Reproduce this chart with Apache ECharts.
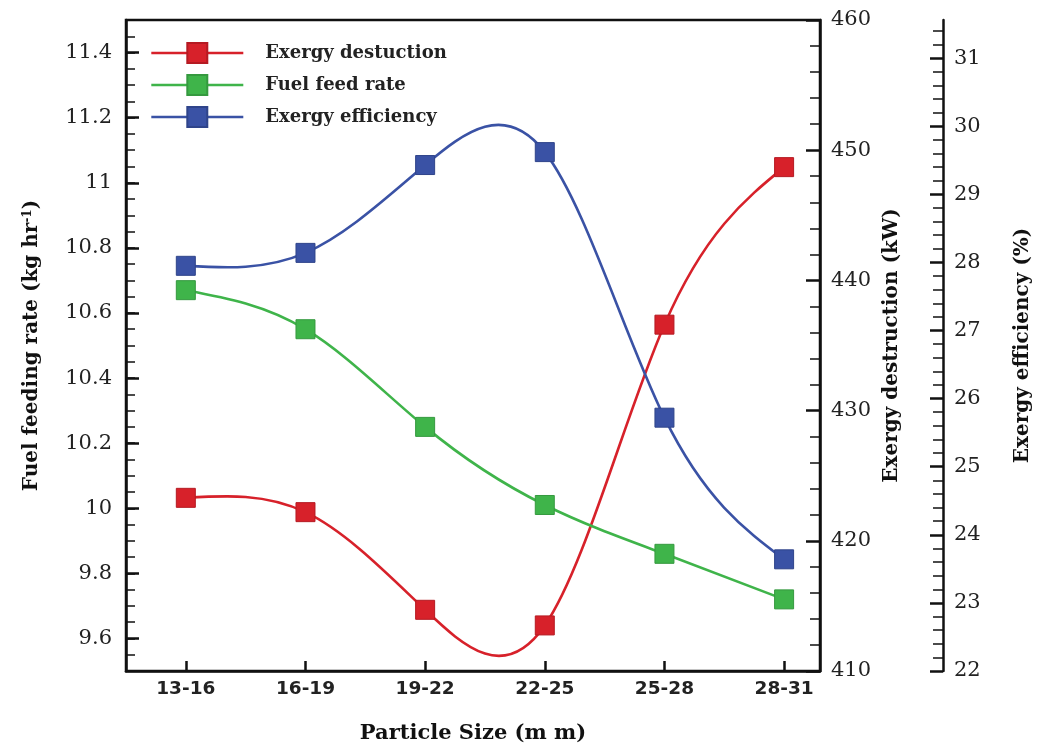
<!DOCTYPE html>
<html>
<head>
<meta charset="utf-8">
<script src="https://cdn.jsdelivr.net/npm/echarts@6/dist/echarts.min.js"></script>
<style>
  html, body { margin: 0; padding: 0; background: #fff; }
  #chart { width: 1041px; height: 744px; }
</style>
</head>
<body>
<div id="chart"></div>
<script>
// ---- data ----
const categories = ['13-16', '16-19', '19-22', '22-25', '25-28', '28-31'];
const exergyDestruction = [423.3, 422.2, 414.7, 413.5, 436.6, 448.7];
const fuelFeedRate = [10.67, 10.55, 10.25, 10.01, 9.86, 9.72];
const exergyEfficiency = [27.95, 28.14, 29.43, 29.62, 25.72, 23.64];
const fuelTickLabels = [9.6, 9.8, 10, 10.2, 10.4, 10.6, 10.8, 11, 11.2, 11.4];
const efficiencyTicks = [22, 23, 24, 25, 26, 27, 28, 29, 30, 31];
const categoryIndex = [0, 1, 2, 3, 4, 5];
const seriesNames = ['Exergy destuction', 'Fuel feed rate', 'Exergy efficiency'];

const RED = '#d7212a', GREEN = '#3fb44a', BLUE = '#3a52a5';
const AXIS = '#111';
const serif = 'DejaVu Serif';

function pairs(vals) { return vals.map((v, i) => [categoryIndex[i], v]); }

// Natural cubic spline through pixel points, returned as SVG path data (Bezier segments)
function splinePath(pts) {
  const n = pts.length;
  const h = [];
  for (let i = 0; i < n - 1; i++) h.push(pts[i + 1][0] - pts[i][0]);
  const M = new Array(n).fill(0);
  if (n > 2) {
    const a = [], b = [], c = [], d = [];
    for (let i = 1; i < n - 1; i++) {
      a.push(h[i - 1]); b.push(2 * (h[i - 1] + h[i])); c.push(h[i]);
      d.push(6 * ((pts[i + 1][1] - pts[i][1]) / h[i] - (pts[i][1] - pts[i - 1][1]) / h[i - 1]));
    }
    const m = b.length;
    for (let i = 1; i < m; i++) {
      const w = a[i] / b[i - 1];
      b[i] -= w * c[i - 1];
      d[i] -= w * d[i - 1];
    }
    const sol = new Array(m);
    sol[m - 1] = d[m - 1] / b[m - 1];
    for (let i = m - 2; i >= 0; i--) sol[i] = (d[i] - c[i] * sol[i + 1]) / b[i];
    for (let i = 0; i < m; i++) M[i + 1] = sol[i];
  }
  let path = 'M' + pts[0][0] + ' ' + pts[0][1];
  for (let i = 0; i < n - 1; i++) {
    const x0 = pts[i][0], y0 = pts[i][1], x1 = pts[i + 1][0], y1 = pts[i + 1][1], hh = h[i];
    const s = (y1 - y0) / hh;
    const m0 = s - hh * (2 * M[i] + M[i + 1]) / 6;
    const m1 = s + hh * (M[i] + 2 * M[i + 1]) / 6;
    path += ' C' + (x0 + hh / 3) + ' ' + (y0 + m0 * hh / 3) + ' ' + (x1 - hh / 3) + ' ' + (y1 - m1 * hh / 3) + ' ' + x1 + ' ' + y1;
  }
  return path;
}

function splineRenderer(values, color) {
  return function (params, api) {
    if (params.dataIndex !== 0) return null;
    const pts = values.map((v, i) => api.coord([categoryIndex[i], v]));
    return {
      type: 'path', silent: true,
      shape: { pathData: splinePath(pts) },
      style: { fill: 'none', stroke: color, lineWidth: 2.6 }
    };
  };
}

const chart = echarts.init(document.getElementById('chart'), null, { renderer: 'canvas' });

const yLabel = { fontFamily: serif, fontSize: 21, color: '#222' };
const nameStyle = { fontFamily: serif, fontWeight: 'bold', fontSize: 20, color: '#111' };

function markerSeries(name, values, yIdx, color, border) {
  return {
    name: name, type: 'line', yAxisIndex: yIdx, z: 4,
    data: pairs(values),
    symbol: 'rect', symbolSize: 19,
    lineStyle: { color: color, width: 2.6, opacity: 0 },
    itemStyle: { color: color, borderColor: border, borderWidth: 1 }
  };
}
function curveSeries(values, yIdx, color) {
  return {
    type: 'custom', yAxisIndex: yIdx, z: 3,
    data: pairs(values),
    renderItem: splineRenderer(values, color)
  };
}

const option = {
  animation: false,
  backgroundColor: '#fff',
  grid: { left: 126, right: 221, top: 20, bottom: 73, containLabel: false, outerBoundsMode: 'none', show: true, borderColor: AXIS, borderWidth: 2.5, backgroundColor: 'transparent' },
  legend: {
    orient: 'vertical', left: 150, top: 42, padding: 0,
    itemWidth: 92, itemHeight: 25, itemGap: 10,
    data: seriesNames,
    lineStyle: { opacity: 1, width: 2.6 },
    textStyle: { fontFamily: serif, fontWeight: 'bold', fontSize: 18, color: '#222', padding: [0, 0, 0, 17] }
  },
  xAxis: {
    type: 'value', min: -0.5, max: 5.3,
    name: 'Particle Size (m m)', nameLocation: 'middle', nameGap: 52,
    nameTextStyle: { fontFamily: serif, fontWeight: 'bold', fontSize: 21, color: '#111' },
    axisLine: { show: true, onZero: false, lineStyle: { color: AXIS, width: 2.5 } },
    axisTick: { show: true, inside: true, length: 10, customValues: categoryIndex, lineStyle: { color: AXIS, width: 2.5 } },
    axisLabel: { customValues: categoryIndex, formatter: v => categories[Math.round(v)], fontFamily: 'DejaVu Sans', fontWeight: 'bold', fontSize: 18.5, color: '#222', margin: 9 },
    splitLine: { show: false }
  },
  yAxis: [
    { // 0: fuel feed rate (short ticks every 0.05, labels)
      type: 'value', position: 'left', min: 9.5, max: 11.5, interval: 0.05,
      name: 'Fuel feeding rate (kg hr{sup|-1})', nameLocation: 'middle', nameGap: 84, nameRotate: 90,
      nameTextStyle: Object.assign({}, nameStyle, { rich: { sup: { fontFamily: serif, fontWeight: 'bold', fontSize: 12, verticalAlign: 'top', padding: [0, 0, 8, 0] } } }),
      axisLine: { show: true, onZero: false, lineStyle: { color: AXIS, width: 2.5 } },
      axisTick: { show: true, inside: true, length: 9, lineStyle: { color: AXIS, width: 1.5 } },
      axisLabel: Object.assign({ customValues: fuelTickLabels, formatter: v => String(Math.round(v * 10) / 10), margin: 14 }, yLabel),
      splitLine: { show: false }
    },
    { // 1: exergy destruction
      type: 'value', position: 'right', min: 410, max: 460, interval: 10,
      name: 'Exergy destruction (kW)', nameLocation: 'middle', nameGap: 60, nameRotate: 90,
      nameTextStyle: nameStyle,
      axisLine: { show: true, onZero: false, lineStyle: { color: AXIS, width: 2.5 } },
      axisTick: { show: true, inside: true, length: 14, lineStyle: { color: AXIS, width: 2.5 } },
      minorTick: { show: true, splitNumber: 5, length: 10, lineStyle: { color: AXIS, width: 1.5 } },
      axisLabel: Object.assign({ margin: 11 }, yLabel),
      splitLine: { show: false }, minorSplitLine: { show: false }
    },
    { // 2: exergy efficiency (offset axis)
      type: 'value', position: 'right', offset: 123, min: 22, max: 31.56, interval: 1,
      name: 'Exergy efficiency (%)', nameLocation: 'middle', nameGap: 70, nameRotate: 90,
      nameTextStyle: nameStyle,
      axisLine: { show: true, onZero: false, lineStyle: { color: AXIS, width: 2.5 } },
      axisTick: { show: true, inside: true, length: 13, customValues: efficiencyTicks, lineStyle: { color: AXIS, width: 2.5 } },
      minorTick: { show: true, splitNumber: 5, length: 10, lineStyle: { color: AXIS, width: 1.5 } },
      axisLabel: Object.assign({ margin: 11, showMaxLabel: false }, yLabel),
      splitLine: { show: false }, minorSplitLine: { show: false }
    },
    { // 3: long major ticks for fuel axis
      type: 'value', position: 'left', min: 9.5, max: 11.5, interval: 0.05,
      axisLine: { show: false, onZero: false },
      axisTick: { show: true, inside: true, length: 13, customValues: fuelTickLabels, lineStyle: { color: AXIS, width: 2.5 } },
      axisLabel: { show: false },
      splitLine: { show: false }
    }
  ],
  series: [
    curveSeries(exergyDestruction, 1, RED),
    curveSeries(fuelFeedRate, 0, GREEN),
    curveSeries(exergyEfficiency, 2, BLUE),
    markerSeries(seriesNames[0], exergyDestruction, 1, RED, '#b51a22'),
    markerSeries(seriesNames[1], fuelFeedRate, 0, GREEN, '#35993f'),
    markerSeries(seriesNames[2], exergyEfficiency, 2, BLUE, '#2f448a')
  ]
};
chart.setOption(option);
</script>
</body>
</html>
